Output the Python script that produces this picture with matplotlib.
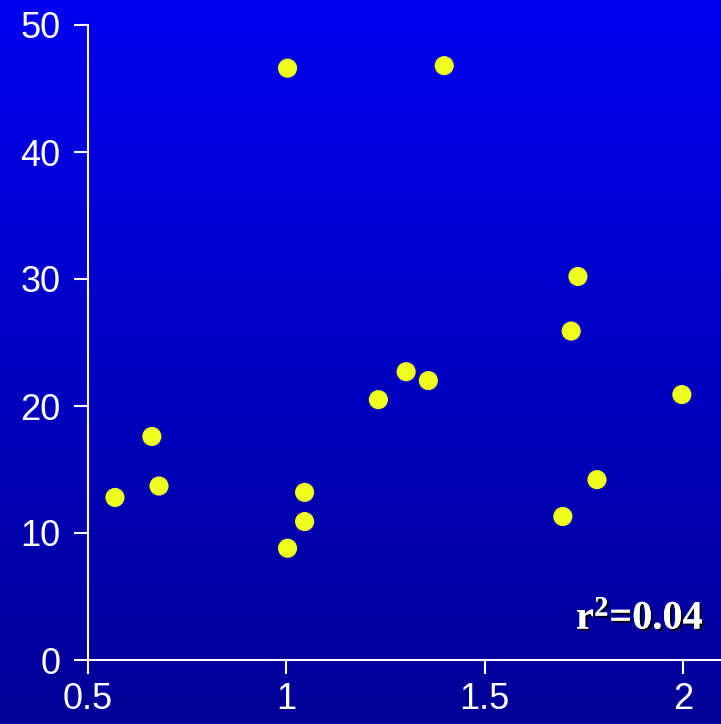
import numpy as np
import matplotlib
matplotlib.use("Agg")
import matplotlib.pyplot as plt
import matplotlib.patheffects as pe
from matplotlib.colors import LinearSegmentedColormap

x_vals = [0.568, 0.661, 0.679, 1.003, 1.003, 1.046, 1.046, 1.232,
          1.302, 1.358, 1.398, 1.697, 1.718, 1.735, 1.783, 1.997]
y_vals = [12.8, 17.6, 13.7, 46.6, 8.8, 13.2, 10.9, 20.5,
          22.7, 22.0, 46.8, 11.3, 25.9, 30.2, 14.2, 20.9]
x_ticks = [0.5, 1, 1.5, 2]
x_labels = ["0.5", "1", "1.5", "2"]
y_ticks = [0, 10, 20, 30, 40, 50]
r2_label = r"$\mathbf{r^2}$=0.04"

plt.rcParams["font.family"] = ["Liberation Sans", "DejaVu Sans"]
plt.rcParams["mathtext.fontset"] = "custom"
plt.rcParams["mathtext.bf"] = "Liberation Serif:bold"
plt.rcParams["mathtext.rm"] = "Liberation Serif:bold"

fig = plt.figure(figsize=(7.21, 7.24), dpi=100)

# background gradient, bright blue at top to navy at bottom
bg = fig.add_axes([0, 0, 1, 1], zorder=0)
cmap = LinearSegmentedColormap.from_list("bg", ["#000096", "#0000F0"])
grad = np.linspace(0, 1, 256).reshape(-1, 1)
bg.imshow(grad, aspect="auto", cmap=cmap, origin="lower", extent=[0, 1, 0, 1])
bg.axis("off")

ax = fig.add_axes([88 / 721, 64 / 724, 633 / 721, 635 / 724], zorder=1)
ax.patch.set_alpha(0)
ax.scatter(x_vals, y_vals, s=190, color="#EEFF1E", edgecolors="none",
           clip_on=False, zorder=3)

ax.set_xlim(0.5, 0.5 + 633 / 396.7)
ax.set_ylim(0, 50)
ax.set_xticks(x_ticks)
ax.set_xticklabels(x_labels)
ax.set_yticks(y_ticks)

for side in ["top", "right"]:
    ax.spines[side].set_visible(False)
for side in ["left", "bottom"]:
    ax.spines[side].set_color("white")
    ax.spines[side].set_linewidth(1.5)

ax.tick_params(colors="white", labelsize=26, length=10, width=1.5,
               direction="out")
ax.tick_params(axis="y", pad=10)
ax.tick_params(axis="x", pad=6)

ax.text(0.973, 0.035, r2_label, transform=ax.transAxes, ha="right",
        va="bottom", color="white", fontsize=29, fontweight="bold",
        family=["Liberation Serif", "DejaVu Serif"],
        path_effects=[pe.withSimplePatchShadow(offset=(1.5, -1.5),
                                               shadow_rgbFace="black",
                                               alpha=0.9),
                      pe.Normal()])

fig.savefig("out.png", dpi=100)
